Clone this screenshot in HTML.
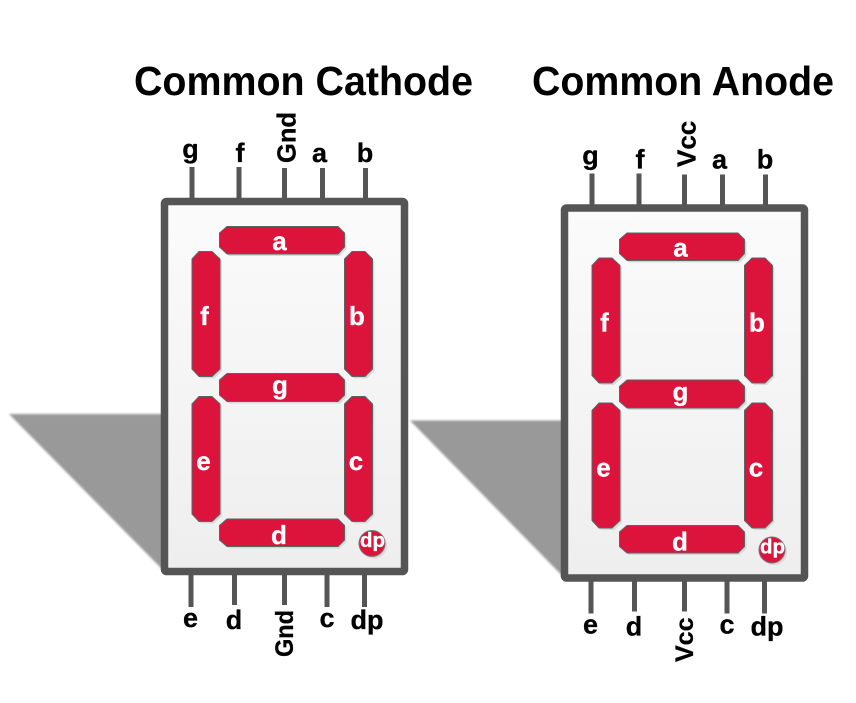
<!DOCTYPE html>
<html lang="en">
<head>
<meta charset="utf-8">
<title>Seven Segment Display: Common Cathode and Common Anode</title>
<style>
html,body{margin:0;padding:0;background:#fff;}
svg{display:block;}
text{font-family:"Liberation Sans",sans-serif;font-weight:bold;}
.pin{fill:#555;}
.lbl{font-size:27px;fill:#000;stroke:#000;stroke-width:.3px;text-anchor:middle;}
.rot{font-size:26px;fill:#000;stroke:#000;stroke-width:.3px;}
.seg{fill:#dc143c;stroke:#566;stroke-width:1;}
.segsh{fill:#d9d9d9;}
.sl{font-size:26px;fill:#fff;stroke:#fff;stroke-width:.3px;text-anchor:middle;}
.dpl{font-size:20px;fill:#fff;stroke:#fff;stroke-width:.3px;}
.title{font-size:41px;fill:#000;}
</style>
</head>
<body>
<svg xmlns="http://www.w3.org/2000/svg" width="856" height="703" viewBox="0 0 856 703">
<defs>
<linearGradient id="panelGrad" x1="0" y1="0" x2="0" y2="1">
<stop offset="0" stop-color="#fbfbfb"/>
<stop offset="1" stop-color="#eeeeee"/>
</linearGradient>
<filter id="soft" x="-5%" y="-5%" width="110%" height="110%"><feGaussianBlur stdDeviation="1"/></filter>
</defs>

<text class="title" x="134" y="95" textLength="339" lengthAdjust="spacingAndGlyphs">Common Cathode</text>
<text class="title" x="532" y="95" textLength="302" lengthAdjust="spacingAndGlyphs">Common Anode</text>

<g>
<polygon points="9,414 163,414 163,570" fill="#999" filter="url(#soft)"/>
<rect class="pin" x="189.500" y="167" width="5" height="32"/>
<rect class="pin" x="236.500" y="167" width="5" height="32"/>
<rect class="pin" x="282" y="168" width="5" height="31"/>
<rect class="pin" x="320" y="168" width="5" height="31"/>
<rect class="pin" x="363" y="168" width="5" height="31"/>
<rect class="pin" x="188.500" y="573" width="5" height="34"/>
<rect class="pin" x="232" y="573" width="5" height="32"/>
<rect class="pin" x="282" y="573" width="5" height="32"/>
<rect class="pin" x="324.500" y="573" width="5" height="34"/>
<rect class="pin" x="362" y="573" width="5" height="34"/>
<rect x="164.500" y="201.500" width="240" height="370" rx="2" fill="url(#panelGrad)" stroke="#555" stroke-width="7.500"/>
<g transform="translate(2,2)">
<polygon class="segsh" points="227,226.500 338,226.500 344.500,233 344.500,247 338,254 227,254 219.500,247 219.500,233"/>
<polygon class="segsh" points="199,251.500 212,251.500 220,259 220,369 212,376.500 199,376.500 192,369 192,259"/>
<polygon class="segsh" points="352,251.500 365,251.500 372.500,259 372.500,369 365,376.500 352,376.500 344.500,369 344.500,259"/>
<polygon class="segsh" points="227,373.500 338,373.500 344.500,380 344.500,395 338,401.500 227,401.500 219.500,395 219.500,380"/>
<polygon class="segsh" points="199,396.500 212,396.500 220,404 220,514 212,521.500 199,521.500 192,514 192,404"/>
<polygon class="segsh" points="352,396.500 365,396.500 372.500,404 372.500,514 365,521.500 352,521.500 344.500,514 344.500,404"/>
<polygon class="segsh" points="227,519 338,519 344.500,525.500 344.500,540 338,546.500 227,546.500 219.500,540 219.500,525.500"/>
<circle cx="372" cy="543.500" r="13" fill="#d9d9d9"/>
</g>
<polygon class="seg" points="227,226.500 338,226.500 344.500,233 344.500,247 338,254 227,254 219.500,247 219.500,233"/>
<polygon class="seg" points="199,251.500 212,251.500 220,259 220,369 212,376.500 199,376.500 192,369 192,259"/>
<polygon class="seg" points="352,251.500 365,251.500 372.500,259 372.500,369 365,376.500 352,376.500 344.500,369 344.500,259"/>
<polygon class="seg" points="227,373.500 338,373.500 344.500,380 344.500,395 338,401.500 227,401.500 219.500,395 219.500,380"/>
<polygon class="seg" points="199,396.500 212,396.500 220,404 220,514 212,521.500 199,521.500 192,514 192,404"/>
<polygon class="seg" points="352,396.500 365,396.500 372.500,404 372.500,514 365,521.500 352,521.500 344.500,514 344.500,404"/>
<polygon class="seg" points="227,519 338,519 344.500,525.500 344.500,540 338,546.500 227,546.500 219.500,540 219.500,525.500"/>
<circle cx="372" cy="543.500" r="13" fill="#dc143c" stroke="#777" stroke-width="1"/>
<text class="sl" x="279.500" y="250">a</text>
<text class="sl" x="204.500" y="325">f</text>
<text class="sl" x="357" y="325">b</text>
<text class="sl" x="280" y="394">g</text>
<text class="sl" x="203.500" y="470">e</text>
<text class="sl" x="356" y="470">c</text>
<text class="sl" x="279" y="544">d</text>
<text class="dpl" x="360" y="547" textLength="25" lengthAdjust="spacingAndGlyphs">dp</text>
<text class="lbl" x="190.500" y="158">g</text>
<text class="lbl" x="240" y="162">f</text>
<text class="lbl" x="319.500" y="162">a</text>
<text class="lbl" x="365" y="162">b</text>
<text class="rot" transform="translate(295.500,163) rotate(-90)" textLength="51" lengthAdjust="spacingAndGlyphs">Gnd</text>
<text class="lbl" x="190.500" y="627">e</text>
<text class="lbl" x="234" y="629">d</text>
<text class="lbl" x="327" y="627">c</text>
<text class="lbl" x="367" y="629">dp</text>
<text class="rot" style="font-size:25px" transform="translate(293,657) rotate(-90)" textLength="47" lengthAdjust="spacingAndGlyphs">Gnd</text>
</g>

<g transform="translate(400,6.500)">
<polygon points="10,414 163,414 163,570" fill="#999" filter="url(#soft)"/>
<rect class="pin" x="189.500" y="167" width="5" height="32"/>
<rect class="pin" x="236.500" y="167" width="5" height="32"/>
<rect class="pin" x="282" y="168" width="5" height="31"/>
<rect class="pin" x="320" y="168" width="5" height="31"/>
<rect class="pin" x="363" y="168" width="5" height="31"/>
<rect class="pin" x="188.500" y="573" width="5" height="34"/>
<rect class="pin" x="232" y="573" width="5" height="32"/>
<rect class="pin" x="282" y="573" width="5" height="32"/>
<rect class="pin" x="324.500" y="573" width="5" height="34"/>
<rect class="pin" x="362" y="573" width="5" height="34"/>
<rect x="164.500" y="201.500" width="240" height="370" rx="2" fill="url(#panelGrad)" stroke="#555" stroke-width="7.500"/>
<g transform="translate(2,2)">
<polygon class="segsh" points="227,226.500 338,226.500 344.500,233 344.500,247 338,254 227,254 219.500,247 219.500,233"/>
<polygon class="segsh" points="199,251.500 212,251.500 220,259 220,369 212,376.500 199,376.500 192,369 192,259"/>
<polygon class="segsh" points="352,251.500 365,251.500 372.500,259 372.500,369 365,376.500 352,376.500 344.500,369 344.500,259"/>
<polygon class="segsh" points="227,373.500 338,373.500 344.500,380 344.500,395 338,401.500 227,401.500 219.500,395 219.500,380"/>
<polygon class="segsh" points="199,396.500 212,396.500 220,404 220,514 212,521.500 199,521.500 192,514 192,404"/>
<polygon class="segsh" points="352,396.500 365,396.500 372.500,404 372.500,514 365,521.500 352,521.500 344.500,514 344.500,404"/>
<polygon class="segsh" points="227,519 338,519 344.500,525.500 344.500,540 338,546.500 227,546.500 219.500,540 219.500,525.500"/>
<circle cx="372" cy="543.500" r="13" fill="#d9d9d9"/>
</g>
<polygon class="seg" points="227,226.500 338,226.500 344.500,233 344.500,247 338,254 227,254 219.500,247 219.500,233"/>
<polygon class="seg" points="199,251.500 212,251.500 220,259 220,369 212,376.500 199,376.500 192,369 192,259"/>
<polygon class="seg" points="352,251.500 365,251.500 372.500,259 372.500,369 365,376.500 352,376.500 344.500,369 344.500,259"/>
<polygon class="seg" points="227,373.500 338,373.500 344.500,380 344.500,395 338,401.500 227,401.500 219.500,395 219.500,380"/>
<polygon class="seg" points="199,396.500 212,396.500 220,404 220,514 212,521.500 199,521.500 192,514 192,404"/>
<polygon class="seg" points="352,396.500 365,396.500 372.500,404 372.500,514 365,521.500 352,521.500 344.500,514 344.500,404"/>
<polygon class="seg" points="227,519 338,519 344.500,525.500 344.500,540 338,546.500 227,546.500 219.500,540 219.500,525.500"/>
<circle cx="372" cy="543.500" r="13" fill="#dc143c" stroke="#777" stroke-width="1"/>
<text class="sl" x="280.500" y="250">a</text>
<text class="sl" x="204.500" y="325">f</text>
<text class="sl" x="357" y="325">b</text>
<text class="sl" x="280.500" y="394">g</text>
<text class="sl" x="203.500" y="470">e</text>
<text class="sl" x="356" y="470">c</text>
<text class="sl" x="280" y="544">d</text>
<text class="dpl" x="360" y="547" textLength="25" lengthAdjust="spacingAndGlyphs">dp</text>
<text class="lbl" x="190.500" y="158">g</text>
<text class="lbl" x="240" y="162">f</text>
<text class="lbl" x="319.500" y="162">a</text>
<text class="lbl" x="365" y="162">b</text>
<text class="rot" transform="translate(295.500,160.500) rotate(-90)">Vcc</text>
<text class="lbl" x="190.500" y="627">e</text>
<text class="lbl" x="234" y="629">d</text>
<text class="lbl" x="327" y="627">c</text>
<text class="lbl" x="367" y="629">dp</text>
<text class="rot" style="font-size:25px" transform="translate(293,655.500) rotate(-90)">Vcc</text>
</g>
</svg>
</body>
</html>
